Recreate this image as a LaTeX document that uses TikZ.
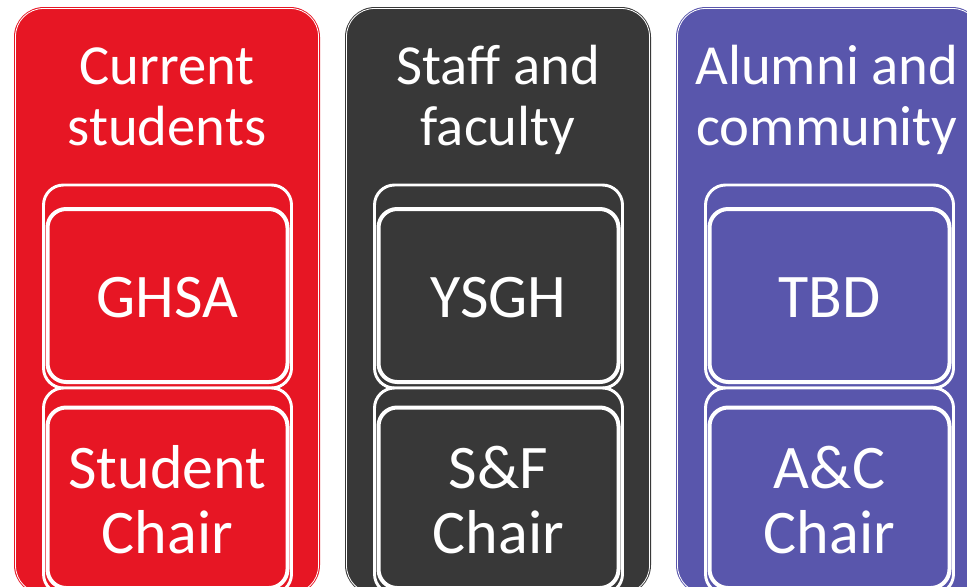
\documentclass[tikz,border=0pt]{standalone}
\usepackage{fontspec}
\setmainfont{Carlito}
\definecolor{RedClr}{RGB}{231,22,36}
\definecolor{GreyClr}{RGB}{56,56,56}
\definecolor{PurpleClr}{RGB}{89,86,172}

\begin{document}
\begin{tikzpicture}[x=0.75pt,y=-0.75pt,
  column/.style={rounded corners=22.5pt},
  rim/.style={draw=white,line width=0.6pt,rounded corners=21pt},
  backcard/.style={draw=white,line width=2.2pt,rounded corners=15pt},
  frontcard/.style={draw=white,line width=3pt,rounded corners=14pt},
  title/.style={text=white,anchor=base,align=center,font=\fontsize{42.5}{45.75}\selectfont},
  cardtext/.style={text=white,anchor=base,align=center,font=\fontsize{46.5}{48.75}\selectfont}]
\useasboundingbox (0,0) rectangle (967,586);
\clip (0,0) rectangle (967,586);

% current students
\fill[RedClr,column] (14,7) rectangle (320,595);
\draw[rim] (15.5,8.5) rectangle (318.5,593.5);
\draw[backcard,fill=RedClr] (43.5,185) rectangle (291.5,388);
\draw[frontcard,fill=RedClr] (47.5,209) rectangle (287.5,382);
\draw[backcard,fill=RedClr] (43.5,388) rectangle (291.5,594);
\draw[frontcard,fill=RedClr] (47.5,407.5) rectangle (287.5,588);
\node[title] (students) at (167,145) {Current\\students};
\node[cardtext] (ghsa) at (167.5,317) {GHSA};
\node[cardtext] (studentchair) at (167.5,553) {Student\\Chair};

% staff and faculty
\fill[GreyClr,column] (345,7) rectangle (651,595);
\draw[rim] (346.5,8.5) rectangle (649.5,593.5);
\draw[backcard,fill=GreyClr] (374.5,185) rectangle (622.5,388);
\draw[frontcard,fill=GreyClr] (378.5,209) rectangle (618.5,382);
\draw[backcard,fill=GreyClr] (374.5,388) rectangle (622.5,594);
\draw[frontcard,fill=GreyClr] (378.5,407.5) rectangle (618.5,588);
\node[title] (staff) at (498,145) {Staff and\\faculty};
\node[cardtext] (ysgh) at (498.5,317) {YSGH};
\node[cardtext] (sfchair) at (498.5,553) {S\&F\\Chair};

% alumni and community
\fill[PurpleClr,column] (676,7) rectangle (982,595);
\draw[rim] (677.5,8.5) rectangle (980.5,593.5);
\draw[backcard,fill=PurpleClr] (705.5,185) rectangle (953.5,388);
\draw[frontcard,fill=PurpleClr] (709.5,209) rectangle (949.5,382);
\draw[backcard,fill=PurpleClr] (705.5,388) rectangle (953.5,594);
\draw[frontcard,fill=PurpleClr] (709.5,407.5) rectangle (949.5,588);
\node[title] (alumni) at (827,145) {Alumni and\\community};
\node[cardtext] (tbd) at (829.5,317) {TBD};
\node[cardtext] (acchair) at (829.5,553) {A\&C\\Chair};
\end{tikzpicture}
\end{document}
